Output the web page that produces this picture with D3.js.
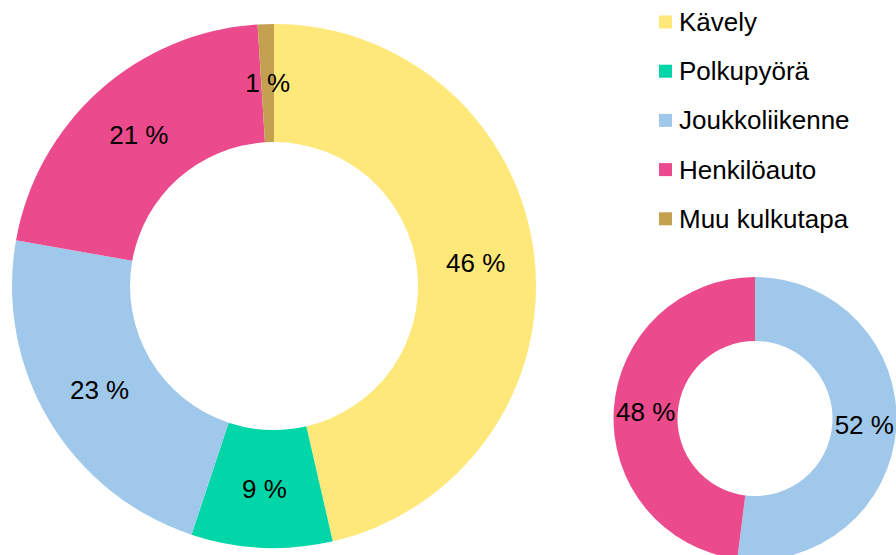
<!DOCTYPE html>
<html>
<head>
<meta charset="utf-8">
<script src="https://cdn.jsdelivr.net/npm/d3@7"></script>
<style>
  body { margin: 0; background: #fff; }
  svg { display: block; font-family: "Liberation Sans", Arial, sans-serif; }
</style>
</head>
<body>
<div id="chart"></div>
<script>
// categories / colours
const categories = ["Kävely", "Polkupyörä", "Joukkoliikenne", "Henkilöauto", "Muu kulkutapa"];
const colors = ["#FFE87A", "#02D6A8", "#A0C8EA", "#EB4A8C", "#C4A150"];

// big donut: share of each mode (%)
const mainValues = [46.4, 8.7, 22.7, 21.2, 1.0];

// small donut: only Joukkoliikenne vs Henkilöauto
const smallCats = ["Joukkoliikenne", "Henkilöauto"];
const smallValues = [52, 48];

const width = 896;
const height = 555;

const svg = d3.select("#chart")
              .append("svg")
              .attr("width", width)
              .attr("height", height);

const color = d3.scaleOrdinal().domain(categories).range(colors);

const pie = d3.pie().sort(null).value(d => d.value);

function donut(cats, values, cx, cy, outer, inner) {
  const data = cats.map((c, i) => ({ cat: c, value: values[i] }));
  const arcs = pie(data);
  const arc = d3.arc().innerRadius(inner).outerRadius(outer);
  const g = svg.append("g").attr("transform", `translate(${cx}, ${cy})`);

  g.selectAll("path")
   .data(arcs)
   .enter()
   .append("path")
   .attr("d", arc)
   .attr("fill", d => color(d.data.cat));

  g.selectAll("text")
   .data(arcs)
   .enter()
   .append("text")
   .attr("transform", d => `translate(${arc.centroid(d)})`)
   .attr("text-anchor", "middle")
   .attr("dominant-baseline", "central")
   .style("font-size", "26px")
   .style("fill", "#000")
   .text(d => Math.round(d.data.value) + " %");
}

donut(categories, mainValues, 274, 286, 262, 144);
donut(smallCats, smallValues, 755, 418.5, 141.5, 77.5);

// legend
const legend = svg.append("g").attr("transform", "translate(659, 22)");
const item = legend.selectAll("g")
                   .data(categories)
                   .enter()
                   .append("g")
                   .attr("transform", (d, i) => `translate(0, ${i * 49.2})`);

item.append("rect")
    .attr("x", 0)
    .attr("y", -6.5)
    .attr("width", 13)
    .attr("height", 13)
    .attr("fill", d => color(d));

item.append("text")
    .attr("x", 20)
    .attr("y", 0)
    .attr("dominant-baseline", "central")
    .style("font-size", "26px")
    .style("fill", "#000")
    .text(d => d);
</script>
</body>
</html>
